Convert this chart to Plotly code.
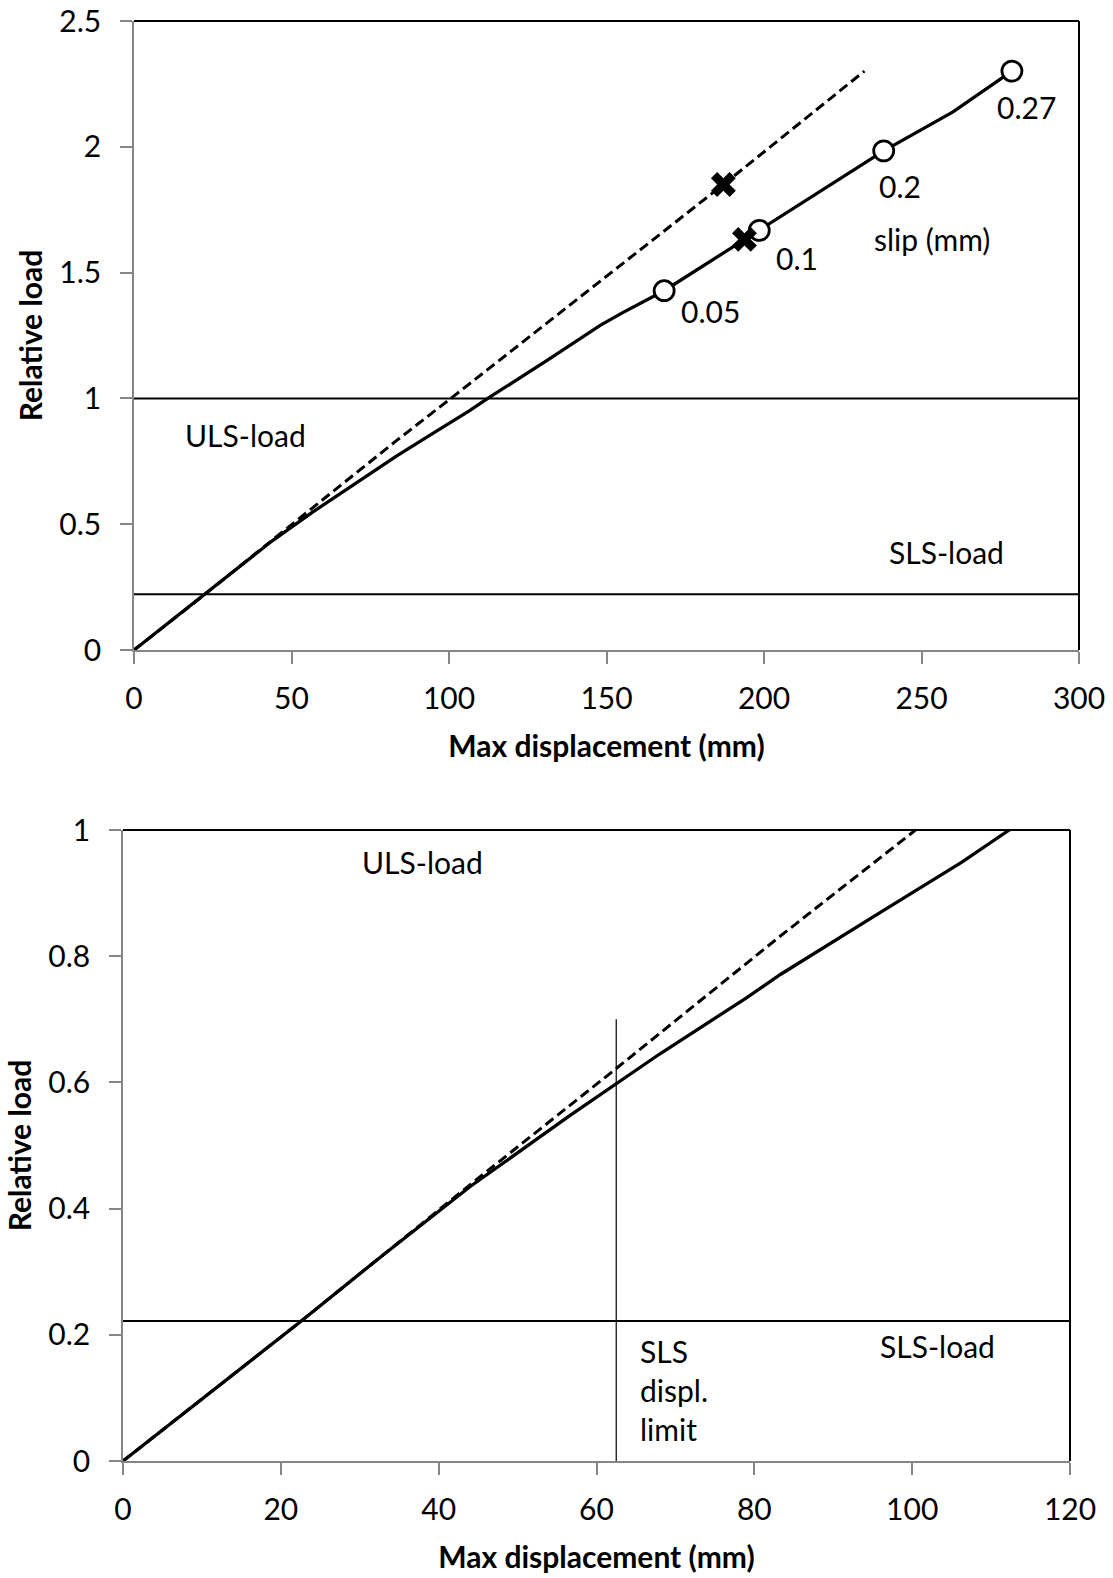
import plotly.graph_objects as go

# ---------------- data ----------------
solid_x = [0, 10, 22.4, 33, 44, 56.7, 62.5, 68, 79, 83.3, 95, 106.3, 112.3, 118,
           132, 148, 155, 168.3, 183, 198.5, 218, 238, 260, 278.7]
solid_y = [0, 0.098, 0.22, 0.327, 0.435, 0.548, 0.597, 0.645, 0.734, 0.771, 0.862,
           0.949, 1.0, 1.045, 1.158, 1.29, 1.34, 1.428, 1.545, 1.668, 1.824, 1.984,
           2.139, 2.301]

dash_x = [0, 22.4, 44, 62.5, 83.3, 100.6, 187.1, 231.9]
dash_y = [0, 0.22, 0.438, 0.622, 0.832, 1.0, 1.85, 2.301]

slip_x = [168.3, 198.5, 238, 278.7]
slip_y = [1.428, 1.668, 1.984, 2.301]
slip_labels = ["0.05", "0.1", "0.2", "0.27"]

cross_x = [193.8, 187.1]
cross_y = [1.632, 1.85]

uls_level = 1.0
sls_level = 0.222
sls_displ_limit = 62.5
sls_displ_top = 0.7

top_xrange = [0, 300]
top_yrange = [0, 2.5]
bot_xrange = [0, 120]
bot_yrange = [0, 1]

x_title = "Max displacement (mm)"
y_title = "Relative load"

# ---------------- figure ----------------
W, H = 1113, 1578
FONT = "Lato"
FS = 30
AXIS_GREY = "#868686"

fig = go.Figure()

def add_common(xa, ya, xr):
    fig.add_trace(go.Scatter(x=[xr[0], xr[1]], y=[uls_level, uls_level], mode="lines",
                             line=dict(color="black", width=2), xaxis=xa, yaxis=ya,
                             showlegend=False, hoverinfo="skip"))
    fig.add_trace(go.Scatter(x=[xr[0], xr[1]], y=[sls_level, sls_level], mode="lines",
                             line=dict(color="black", width=2), xaxis=xa, yaxis=ya,
                             showlegend=False, hoverinfo="skip"))
    fig.add_trace(go.Scatter(x=dash_x, y=dash_y, mode="lines",
                             line=dict(color="black", width=3, dash="10px,5px"),
                             xaxis=xa, yaxis=ya, showlegend=False))
    fig.add_trace(go.Scatter(x=solid_x, y=solid_y, mode="lines",
                             line=dict(color="black", width=3.3),
                             xaxis=xa, yaxis=ya, showlegend=False))

# top subplot
add_common("x", "y", top_xrange)
fig.add_trace(go.Scatter(x=slip_x, y=slip_y, mode="markers",
                         marker=dict(symbol="circle", size=20, color="white",
                                     line=dict(color="black", width=2.8)),
                         xaxis="x", yaxis="y", showlegend=False, cliponaxis=False))
fig.add_trace(go.Scatter(x=cross_x, y=cross_y, mode="markers",
                         marker=dict(symbol="x", size=22, color="black",
                                     line=dict(width=0)),
                         xaxis="x", yaxis="y", showlegend=False))

# bottom subplot
add_common("x2", "y2", bot_xrange)
fig.add_trace(go.Scatter(x=[sls_displ_limit, sls_displ_limit], y=[0, sls_displ_top],
                         mode="lines", line=dict(color="black", width=1.2),
                         xaxis="x2", yaxis="y2", showlegend=False, hoverinfo="skip"))

# ---------------- layout ----------------
ML, MR, MT, MB = 123, 34, 21, 117
PW, PH = W - ML - MR, H - MT - MB

def dom_x(a, b):
    return [(a - ML) / PW, (b - ML) / PW]

def dom_y(top_px, bot_px):
    return [(H - MB - bot_px) / PH, (H - MB - top_px) / PH]

axis_common = dict(
    showgrid=False, zeroline=False, showline=True, linecolor=AXIS_GREY, linewidth=1.5,
    ticks="outside", ticklen=12, tickwidth=1.5, tickcolor=AXIS_GREY,
    tickfont=dict(family=FONT, size=FS, color="black"),
    title_font=dict(family=FONT, size=FS, color="black"),
    automargin=False, ticklabeloverflow="allow",
)

fig.update_layout(
    width=W, height=H,
    margin=dict(l=ML, r=MR, t=MT, b=MB),
    paper_bgcolor="white", plot_bgcolor="white",
    font=dict(family=FONT, size=FS, color="black"),
    xaxis=dict(domain=dom_x(134, 1079), range=top_xrange, dtick=50, anchor="y",
               ticklabelstandoff=9,
               title=dict(text="<b>" + x_title + "</b>", standoff=22), **axis_common),
    yaxis=dict(domain=dom_y(21, 650), range=top_yrange, dtick=0.5, anchor="x",
               ticklabelstandoff=13,
               title=dict(text="<b>" + y_title + "</b>", standoff=8), **axis_common),
    xaxis2=dict(domain=dom_x(123, 1070), range=bot_xrange, dtick=20, anchor="y2",
                ticklabelstandoff=9,
                title=dict(text="<b>" + x_title + "</b>", standoff=22), **axis_common),
    yaxis2=dict(domain=dom_y(830, 1461), range=bot_yrange, dtick=0.2, anchor="x2",
                ticklabelstandoff=13,
                title=dict(text="<b>" + y_title + "</b>", standoff=8), **axis_common),
)

# black top/right frame lines
shapes = []
for xr, yr in (("x", "y"), ("x2", "y2")):
    shapes.append(dict(type="line", xref=xr + " domain", yref=yr + " domain",
                       x0=0, x1=1, y0=1, y1=1, line=dict(color="black", width=2)))
    shapes.append(dict(type="line", xref=xr + " domain", yref=yr + " domain",
                       x0=1, x1=1, y0=0, y1=1, line=dict(color="black", width=2)))
fig.update_layout(shapes=shapes)

# annotations
label_offsets_px = [(46, -20), (38, -28), (16, -35), (15, -36)]
ann = []
for xv, yv, t, (dx, dy) in zip(slip_x, slip_y, slip_labels, label_offsets_px):
    ann.append(dict(x=xv, y=yv, xref="x", yref="y", text=t, showarrow=False,
                    xshift=dx, yshift=dy, font=dict(family=FONT, size=FS)))
ann += [
    dict(x=253.2, y=1.632, xref="x", yref="y", text="slip (mm)", showarrow=False),
    dict(x=35.5, y=0.856, xref="x", yref="y", text="ULS-load", showarrow=False),
    dict(x=257.9, y=0.388, xref="x", yref="y", text="SLS-load", showarrow=False),
    dict(x=37.9, y=0.949, xref="x2", yref="y2", text="ULS-load", showarrow=False),
    dict(x=103.2, y=0.182, xref="x2", yref="y2", text="SLS-load", showarrow=False),
    dict(x=65.3, y=0.112, xref="x2", yref="y2", text="SLS<br>displ.<br>limit",
         showarrow=False, xanchor="left", yanchor="middle", align="left"),
]
for a in ann:
    a.setdefault("font", dict(family=FONT, size=FS, color="black"))
fig.update_layout(annotations=ann)

fig.write_html("out.html",
               config={"displayModeBar": False},
               post_script="document.body.style.margin='0px';"
                           "document.body.style.overflow='hidden';")
